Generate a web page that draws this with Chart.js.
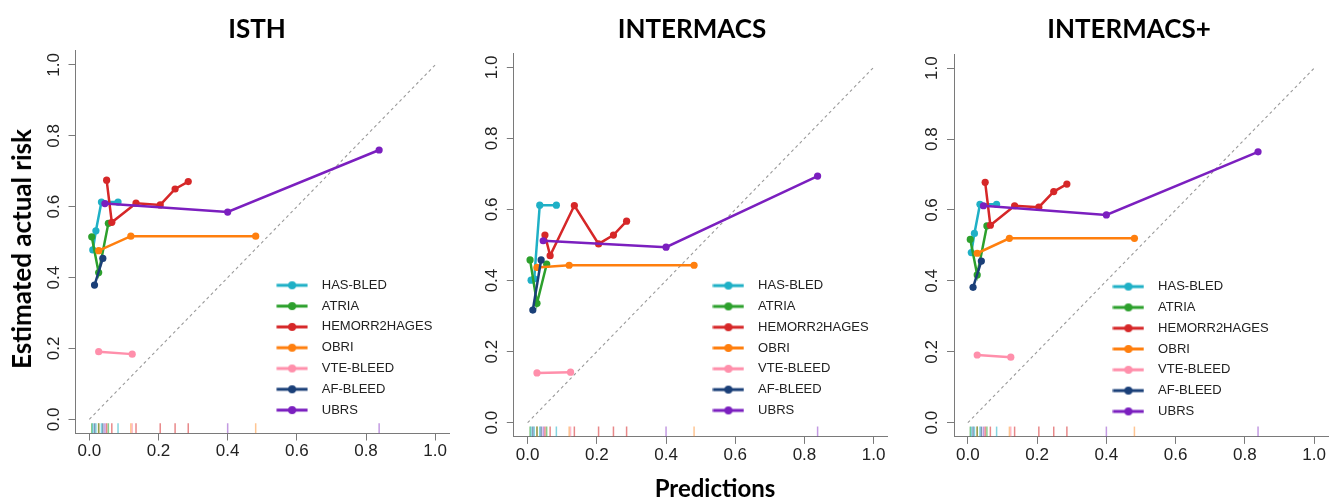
<!DOCTYPE html>
<html>
<head>
<meta charset="utf-8">
<script src="https://cdn.jsdelivr.net/npm/chart.js@4.4.1/dist/chart.umd.min.js"></script>
<style>
html,body{margin:0;padding:0;background:#fff;width:1338px;height:502px;overflow:hidden;position:relative;}
.panel{position:absolute;top:0;height:502px;}
#ytitle{position:absolute;left:21px;top:249px;transform:translate(-50%,-50%) rotate(-90deg);font-family:Lato,sans-serif;font-weight:bold;font-size:26px;white-space:nowrap;color:#000;}
#xtitle{position:absolute;left:715px;top:487px;transform:translate(-50%,-50%);font-family:Lato,sans-serif;font-weight:bold;font-size:24px;white-space:nowrap;color:#000;}
</style>
</head>
<body>
<div class="panel" style="left:0;width:470px"><canvas id="c1"></canvas></div>
<div class="panel" style="left:470px;width:440px"><canvas id="c2"></canvas></div>
<div class="panel" style="left:910px;width:428px"><canvas id="c3"></canvas></div>
<div id="ytitle">Estimated actual risk</div>
<div id="xtitle">Predictions</div>
<script>
// ---------- DATA ----------
const panelTitles = ['ISTH', 'INTERMACS', 'INTERMACS+'];
const seriesNames = ['HAS-BLED', 'ATRIA', 'HEMORR2HAGES', 'OBRI', 'VTE-BLEED', 'AF-BLEED', 'UBRS'];
const tickValues = [0, 0.2, 0.4, 0.6, 0.8, 1.0];

// predictions (x), shared by all panels
const predHASBLED = [0.010, 0.019, 0.035, 0.083];
const predATRIA = [0.007, 0.027, 0.055];
const predHEMORR2HAGES = [0.050, 0.065, 0.135, 0.205, 0.248, 0.286];
const predOBRI = [0.027, 0.120, 0.481];
const predVTEBLEED = [0.027, 0.124];
const predAFBLEED = [0.015, 0.039];
const predUBRS = [0.045, 0.400, 0.838];

// ISTH estimated actual risk
const isthHASBLED = [0.478, 0.532, 0.613, 0.613];
const isthATRIA = [0.515, 0.414, 0.553];
const isthHEMORR2HAGES = [0.675, 0.556, 0.610, 0.605, 0.650, 0.671];
const isthOBRI = [0.476, 0.517, 0.517];
const isthVTEBLEED = [0.191, 0.184];
const isthAFBLEED = [0.379, 0.454];
const isthUBRS = [0.609, 0.585, 0.760];

// INTERMACS estimated actual risk
const imHASBLED = [0.401, 0.405, 0.612, 0.612];
const imATRIA = [0.458, 0.336, 0.446];
const imHEMORR2HAGES = [0.528, 0.470, 0.611, 0.503, 0.528, 0.567];
const imOBRI = [0.437, 0.443, 0.443];
const imVTEBLEED = [0.140, 0.142];
const imAFBLEED = [0.317, 0.458];
const imUBRS = [0.512, 0.494, 0.694];

// INTERMACS+ estimated actual risk
const impHASBLED = [0.480, 0.534, 0.616, 0.616];
const impATRIA = [0.517, 0.417, 0.555];
const impHEMORR2HAGES = [0.678, 0.557, 0.612, 0.608, 0.652, 0.673];
const impOBRI = [0.478, 0.520, 0.520];
const impVTEBLEED = [0.191, 0.185];
const impAFBLEED = [0.382, 0.456];
const impUBRS = [0.612, 0.586, 0.764];

// ---------- STYLE ----------
const seriesColors = ['#1fb0c6', '#2ca02c', '#d62728', '#ff7f0e', '#ff8fab', '#1a3f78', '#7b1fbf'];
const rugColors = ['rgba(31,176,198,0.55)', 'rgba(44,160,44,0.55)', 'rgba(214,39,40,0.55)', 'rgba(255,127,14,0.45)', 'rgba(255,143,171,0.6)', 'rgba(26,63,120,0.55)', 'rgba(123,31,191,0.45)'];
const RUG_Y = -0.025;
const axisColor = '#7a7a7a';
const textColor = '#222';

const preds = [predHASBLED, predATRIA, predHEMORR2HAGES, predOBRI, predVTEBLEED, predAFBLEED, predUBRS];
const panelValues = [
  [isthHASBLED, isthATRIA, isthHEMORR2HAGES, isthOBRI, isthVTEBLEED, isthAFBLEED, isthUBRS],
  [imHASBLED, imATRIA, imHEMORR2HAGES, imOBRI, imVTEBLEED, imAFBLEED, imUBRS],
  [impHASBLED, impATRIA, impHEMORR2HAGES, impOBRI, impVTEBLEED, impAFBLEED, impUBRS]
];

// layout per panel (container coords)
const panelLayout = [
  {pad: {left: 35.5, right: 21, bottom: 28.5}, titleBottom: 5.2, titleX: 257, legend: {x: 261.1, y: 271.0}},
  {pad: {left: 3.8, right: 22.5, bottom: 25.1}, titleBottom: 7.5, titleX: 222, legend: {x: 227.4, y: 271.3}},
  {pad: {left: 4.0, right: 10, bottom: 25.1}, titleBottom: 8.4, titleX: 219, legend: {x: 187.4, y: 272.3}}
];

function legendGlyph(color) {
  const c = document.createElement('canvas');
  c.width = 32; c.height = 10;
  const g = c.getContext('2d');
  g.strokeStyle = color; g.lineWidth = 3;
  g.beginPath(); g.moveTo(0.5, 5); g.lineTo(31.5, 5); g.stroke();
  g.fillStyle = color;
  g.beginPath(); g.arc(16, 5, 4, 0, Math.PI * 2); g.fill();
  return c;
}
const glyphs = seriesColors.map(legendGlyph);

const placePlugin = {
  id: 'place',
  afterLayout(chart) {
    const o = chart.options.plugins.place;
    const lg = chart.legend;
    if (lg && o.legend) {
      const w = lg.width, h = lg.height;
      lg.left = o.legend.x; lg.top = o.legend.y;
      lg.right = lg.left + w; lg.bottom = lg.top + h;
    }
    const tb = chart.titleBlock;
    if (tb && o.titleX != null) {
      tb.left = o.titleX - 200; tb.right = o.titleX + 200;
    }
  }
};

function makeChart(id, p) {
  const values = panelValues[p];
  const L = panelLayout[p];
  const datasets = [];
  seriesNames.forEach((name, i) => {
    datasets.push({
      label: name,
      data: preds[i].map((x, k) => ({x: x, y: values[i][k]})),
      showLine: true,
      borderColor: seriesColors[i],
      backgroundColor: seriesColors[i],
      borderWidth: 2.5,
      pointRadius: 3.6,
      pointBorderWidth: 0,
      pointBackgroundColor: seriesColors[i],
      tension: 0,
      order: 7 - i
    });
  });
  seriesNames.forEach((name, i) => {
    datasets.push({
      label: 'rug ' + name,
      data: preds[i].map(x => ({x: x, y: RUG_Y})),
      showLine: false,
      pointStyle: 'line',
      rotation: 90,
      pointRadius: 5,
      pointBorderWidth: 1.5,
      pointBorderColor: rugColors[i],
      borderColor: rugColors[i],
      order: 20
    });
  });
  datasets.push({
    label: 'diagonal',
    data: [{x: tickValues[0], y: tickValues[0]}, {x: tickValues[tickValues.length - 1], y: tickValues[tickValues.length - 1]}],
    showLine: true,
    borderColor: '#9a9a9a',
    borderWidth: 1.1,
    borderDash: [3, 3],
    pointRadius: 0,
    order: 30
  });

  const axisCommon = {
    type: 'linear',
    min: -0.04,
    max: 1.04,
    afterBuildTicks: (scale) => { scale.ticks = tickValues.map(v => ({value: v})); },
    grid: {display: true, drawOnChartArea: false, drawTicks: true, tickLength: 7, color: axisColor, lineWidth: 1},
    border: {display: true, color: axisColor, width: 1}
  };

  return new Chart(document.getElementById(id), {
    type: 'scatter',
    data: {datasets},
    options: {
      responsive: true,
      maintainAspectRatio: false,
      animation: false,
      events: [],
      layout: {padding: {left: L.pad.left, right: L.pad.right, top: 0, bottom: L.pad.bottom}},
      scales: {
        x: Object.assign({}, axisCommon, {
          position: 'bottom',
          afterFit: (s) => { s.height = 40; },
          ticks: {color: textColor, font: {family: 'Liberation Sans, Arial, sans-serif', size: 17}, padding: 1, maxRotation: 0, minRotation: 0,
            callback: (v) => Number(v).toFixed(1)}
        }),
        y: Object.assign({}, axisCommon, {
          position: 'left',
          afterFit: (s) => { s.width = 40; },
          ticks: {color: textColor, font: {family: 'Liberation Sans, Arial, sans-serif', size: 17}, padding: 2.5, minRotation: 90, maxRotation: 90, crossAlign: 'center',
            callback: (v) => Number(v).toFixed(1)}
        })
      },
      plugins: {
        place: {legend: L.legend, titleX: L.titleX},
        tooltip: {enabled: false},
        title: {
          display: true,
          text: panelTitles[p],
          color: '#000',
          font: {family: 'Lato, sans-serif', weight: 'bold', size: 26},
          padding: {top: 14.4, bottom: L.titleBottom}
        },
        legend: {
          display: true,
          position: 'chartArea',
          align: 'start',
          labels: {
            usePointStyle: true,
            pointStyleWidth: 46.4,
            padding: 7.8,
            color: textColor,
            font: {family: 'Liberation Sans, Arial, sans-serif', size: 13},
            filter: (item) => item.datasetIndex < seriesNames.length,
            sort: (a, b) => a.datasetIndex - b.datasetIndex,
            generateLabels: (chart) => {
              const items = Chart.defaults.plugins.legend.labels.generateLabels(chart);
              items.forEach(it => { if (it.datasetIndex < glyphs.length) it.pointStyle = glyphs[it.datasetIndex]; });
              return items;
            }
          }
        }
      }
    },
    plugins: [placePlugin]
  });
}

makeChart('c1', 0);
makeChart('c2', 1);
makeChart('c3', 2);
</script>
</body>
</html>
